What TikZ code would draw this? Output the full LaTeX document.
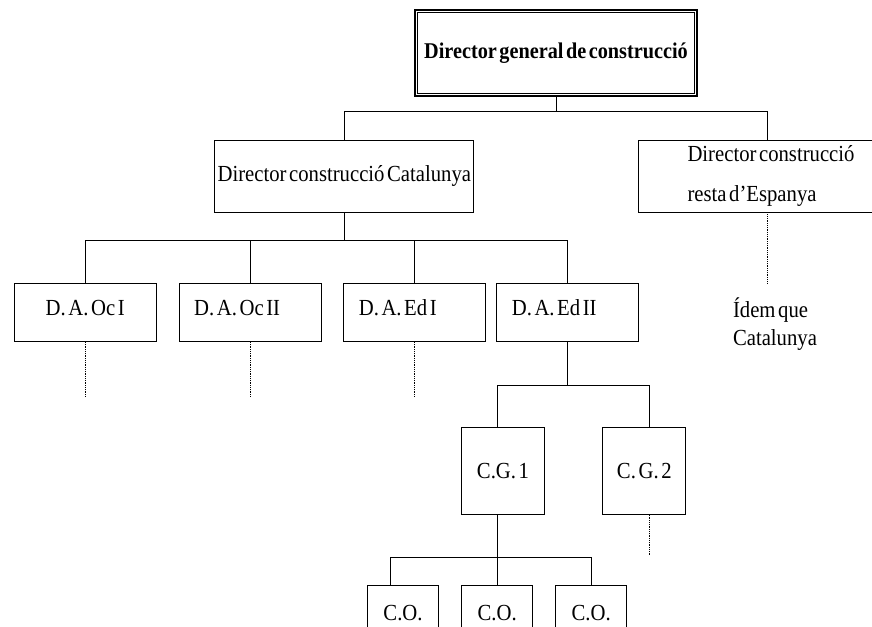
\documentclass[tikz,border=0pt]{standalone}
\usepackage{fontspec}
\setmainfont{Liberation Serif}[FakeStretch=0.9, WordSpace=0.5]
\frenchspacing
\usetikzlibrary{calc}
\begin{document}
\begin{tikzpicture}[x=1pt,y=-1pt,
  font=\fontsize{23}{26}\selectfont\frenchspacing,
  box/.style={draw, line width=0.9pt, inner sep=0pt},
  dabox/.style={box, minimum width=142pt, minimum height=58pt, text width=112pt, inner xsep=15pt, align=flush left, text depth=10pt},
  cgbox/.style={box, minimum width=83pt, minimum height=87pt},
  cobox/.style={box, minimum width=71pt, minimum height=56pt},
  wire/.style={line width=0.9pt},
  dots/.style={line width=0.7pt, dash pattern=on 0.7pt off 1.1pt}]
\useasboundingbox (0,0) rectangle (872,626);
\clip (0,0) rectangle (872,626);
\fill[white] (0,0) rectangle (872,626);

% levels of the chart
\node[draw, line width=1.8pt, minimum width=282pt, minimum height=86pt, inner sep=0pt,
      font=\fontsize{22.5}{26}\selectfont\bfseries] (top) at (556,53) {Director general de construcció};
\draw[line width=0.9pt] ([shift={(3.6pt,3.6pt)}]top.south west) rectangle ([shift={(-3.6pt,-3.6pt)}]top.north east);

\node[box, minimum width=259pt, minimum height=72pt] (cat) at (344.3,176) {Director construcció Catalunya};
\node[box, minimum width=258pt, minimum height=72pt, align=left] (esp) at (767,176)
  {\hspace*{8pt}Director construcció\\[14pt]\hspace*{8pt}resta d’Espanya};

\node[dabox, align=flush center] (da1) at (85.2,312.5) {D. A. Oc I};
\node[dabox] (da2) at (250.2,312.5) {D. A. Oc II};
\node[dabox] (da3) at (414.8,312.5) {D. A. Ed I};
\node[dabox] (da4) at (567.8,312.5) {D. A. Ed II};

\node[align=left, inner sep=0pt] (idem) at (775,324) {Ídem que\\[2pt]Catalunya};

\node[cgbox] (cg1) at (503,470.7) {C.G. 1};
\node[cgbox] (cg2) at (644.3,470.8) {C. G. 2};

\node[cobox] (co1) at (403,613) {C.O.};
\node[cobox] (co2) at (497.2,613) {C.O.};
\node[cobox] (co3) at (591.2,613) {C.O.};

% bus levels
\coordinate (b1) at (0,111.7);
\coordinate (b2) at (0,240.5);
\coordinate (c1) at (497,385);
\coordinate (c2) at (649.3,385);
\coordinate (d1) at (390.7,557);
\coordinate (e1) at (0,283);
\coordinate (lowend) at (0,397.7);
\coordinate (f1) at (0,555);

% solid connectors
\draw[wire] (top.south) -- (top.south |- b1);
\draw[wire] (cat.north) |- (esp.north |- b1) -- (esp.north);
\draw[wire] (cat.south) -- (cat.south |- b2);
\draw[wire] (da1.north) |- (da4.north |- b2) -- (da4.north);
\draw[wire] (da2.north) -- (da2.north |- b2);
\draw[wire] (da3.north) -- (da3.north |- b2);
\draw[wire] (da4.south) -- (da4.south |- c1);
\draw[wire] (c1 |- cg1.north) -- (c1) -- (c2) -- (c2 |- cg2.north);
\draw[wire] (c1 |- cg1.south) -- (c1 |- d1);
\draw[wire] (d1 |- co1.north) -- (d1) -- (co3.north |- d1) -- (co3.north);
\draw[wire] (co2.north) -- (co2.north |- d1);

% dotted continuations
\draw[dots] (esp.south) -- (esp.south |- e1);
\draw[dots] (da1.south) -- (da1.south |- lowend);
\draw[dots] (da2.south) -- (da2.south |- lowend);
\draw[dots] (da3.south) -- (da3.south |- lowend);
\draw[dots] (c2 |- cg2.south) -- (c2 |- f1);
\end{tikzpicture}
\end{document}
